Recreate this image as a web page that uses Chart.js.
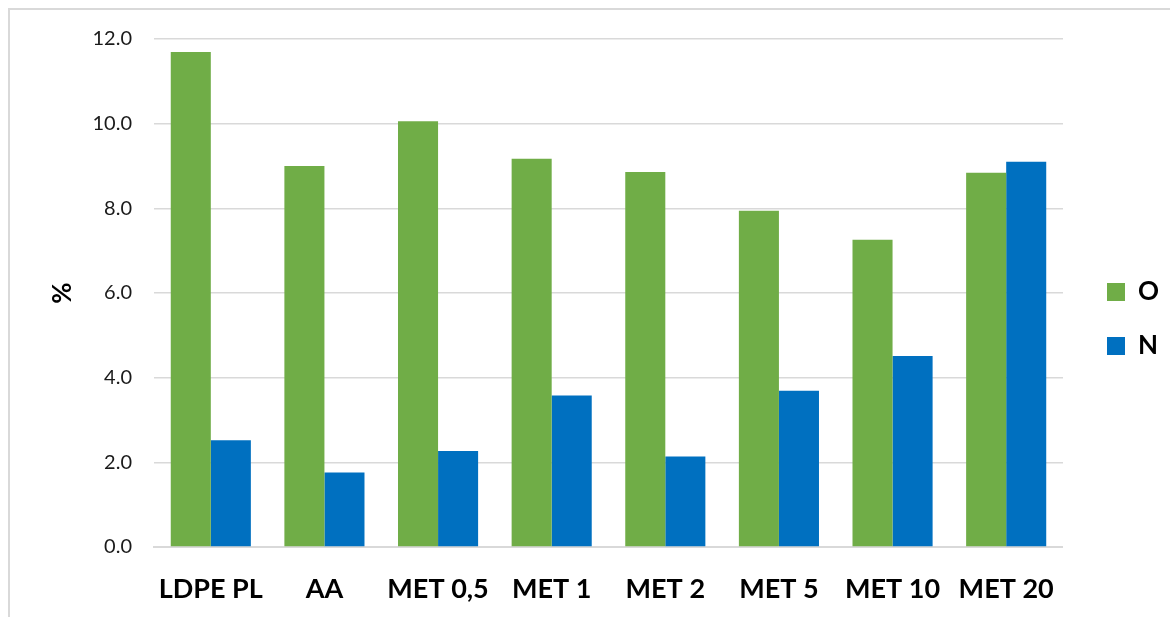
<!DOCTYPE html>
<html>
<head>
<meta charset="utf-8">
<script src="https://cdn.jsdelivr.net/npm/chart.js@4.4.1/dist/chart.umd.min.js"></script>
<style>
  html, body { margin: 0; padding: 0; background: #ffffff; }
  #wrap { position: relative; width: 1170px; height: 617px; overflow: hidden; }
  #frame { position: absolute; left: 8px; top: 8px; width: 1300px; height: 800px;
           border-left: 2px solid #d9d9d9; border-top: 2px solid #d9d9d9; }
  #c { position: absolute; left: 0; top: 0; }
</style>
</head>
<body>
<div id="wrap">
  <div id="frame"></div>
  <canvas id="c" width="1170" height="617"></canvas>
</div>
<script>
// Sample categories and measured contents (%)
const categories = ['LDPE PL', 'AA', 'MET 0,5', 'MET 1', 'MET 2', 'MET 5', 'MET 10', 'MET 20'];
const oxygen   = [11.69, 9.00, 10.06, 9.17, 8.86, 7.94, 7.26, 8.84];
const nitrogen = [2.52, 1.76, 2.27, 3.58, 2.14, 3.69, 4.51, 9.10];
const seriesNames = ['O', 'N'];
const yTicks = [0, 2, 4, 6, 8, 10, 12];

const GREEN = '#70AD47';
const BLUE = '#0070C0';

// Nudges the right-hand legend so it sits where the key belongs
const legendShift = {
  id: 'legendShift',
  afterLayout(chart) {
    const lg = chart.legend;
    if (!lg) return;
    lg.left += 16; lg.right += 16;
    lg.top -= 9; lg.bottom -= 9;
  }
};

new Chart(document.getElementById('c'), {
  type: 'bar',
  data: {
    labels: categories,
    datasets: [
      { label: seriesNames[0], data: oxygen, backgroundColor: GREEN },
      { label: seriesNames[1], data: nitrogen, backgroundColor: BLUE }
    ]
  },
  options: {
    responsive: false,
    animation: false,
    devicePixelRatio: 1,
    layout: { padding: { top: 39, left: 0, right: 17, bottom: 0 } },
    datasets: { bar: { barPercentage: 1.0, categoryPercentage: 0.705 } },
    plugins: {
      tooltip: { enabled: false },
      legend: {
        position: 'right',
        labels: {
          boxWidth: 18, boxHeight: 18, padding: 28,
          color: '#000000',
          font: { family: 'Lato', size: 26, weight: 'bold' }
        }
      }
    },
    scales: {
      x: {
        grid: { display: false, drawTicks: false },
        border: { display: true, color: '#d9d9d9', width: 2 },
        ticks: {
          color: '#000000', padding: 26, maxRotation: 0, autoSkip: false,
          font: { family: 'Lato', size: 27, weight: 'bold' }
        },
        afterFit(s) { s.height = 70; }
      },
      y: {
        min: 0, max: 12,
        afterBuildTicks(s) { s.ticks = yTicks.map(v => ({ value: v })); },
        grid: { color: '#d9d9d9', lineWidth: 1.5, drawTicks: false },
        border: { display: false },
        ticks: {
          color: '#1a1a1a', padding: 22,
          font: { family: 'Lato', size: 20 },
          callback: v => Number(v).toFixed(1)
        },
        title: {
          display: true, text: '%', color: '#000000',
          padding: { top: 47, bottom: 0 },
          font: { family: 'Lato', size: 26, weight: 'bold' }
        },
        afterFit(s) { s.width = 154; }
      }
    }
  },
  plugins: [legendShift]
});
</script>
</body>
</html>
